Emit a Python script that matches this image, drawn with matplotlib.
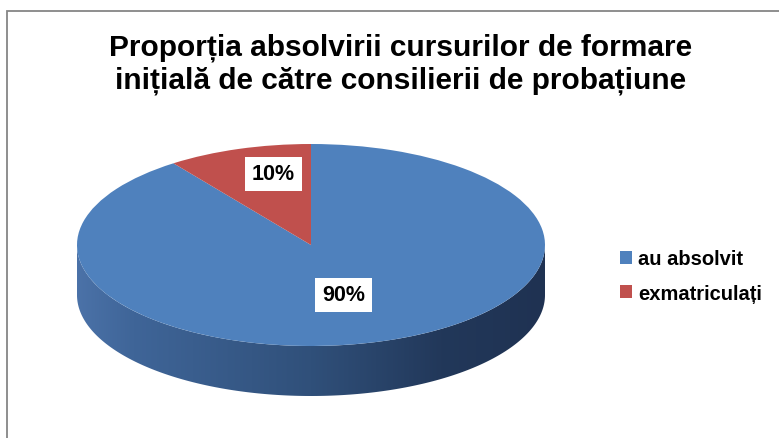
import numpy as np
import matplotlib
matplotlib.use("Agg")
import matplotlib.pyplot as plt
from matplotlib.colors import LinearSegmentedColormap
from matplotlib.patches import Polygon, Rectangle

plt.rcParams['font.family'] = ['Liberation Sans', 'DejaVu Sans']

title = "Proporția absolvirii cursurilor de formare\ninițială de către consilierii de probațiune"
labels = ["au absolvit", "exmatriculați"]
values = [90, 10]
colors = ["#4F81BD", "#C0504D"]

W, H = 779, 439
fig = plt.figure(figsize=(W / 100, H / 100), dpi=100)

# pie geometry in pixels (top face ellipse + side depth)
cx, cy, rx, ry, depth = 311, 246, 234, 101, 50
d = depth / ry
ax = fig.add_axes([(cx - rx) / W, 1 - (cy + ry + depth) / H, 2 * rx / W, (2 * ry + depth) / H])

wedges, texts, autotexts = ax.pie(values, colors=colors, startangle=90, counterclock=False,
                                  autopct='%1.0f%%', pctdistance=0.55,
                                  wedgeprops=dict(linewidth=0, zorder=3),
                                  textprops=dict(fontsize=15.5, fontweight='bold', color='black'))
ax.set_aspect('auto')
ax.axis('off')

# move percentage labels to where Excel puts them
label_r = [(0.45, 0.52), (0.52, 0.74)]
for w, t, (rxf, ryf) in zip(wedges, autotexts, label_r):
    th = np.deg2rad((w.theta1 + w.theta2) / 2)
    t.set_position((rxf * np.cos(th), ryf * np.sin(th)))
    t.set_zorder(5)
    t.set_bbox(dict(facecolor='white', edgecolor='none', pad=5))

# side of the 3D pie with a horizontal gradient
t = np.linspace(np.pi, 2 * np.pi, 200)
top = np.column_stack([np.cos(t), np.sin(t)])
bot = np.column_stack([np.cos(t[::-1]), np.sin(t[::-1]) - d])
side = Polygon(np.vstack([top, bot]), closed=True, facecolor='none', edgecolor='none')
ax.add_patch(side)
cmap = LinearSegmentedColormap.from_list('side', [
    (0.0, '#4B72A8'), (0.12, '#3F6598'), (0.5, '#30507A'),
    (0.78, '#22385A'), (1.0, '#1F3252')])
grad = np.linspace(0, 1, 256).reshape(1, -1)
im = ax.imshow(grad, cmap=cmap, extent=[-1, 1, -1 - d, 0], aspect='auto', zorder=1)
im.set_clip_path(side)
ax.set_xlim(-1, 1)
ax.set_ylim(-1 - d, 1)

fig.text(401 / W, 1 - 64 / H, title, ha='center', va='center',
         fontsize=21.5, fontweight='bold', linespacing=1.2)

fig.legend(wedges, labels, loc='center left', bbox_to_anchor=(602 / W, 1 - 277 / H),
           frameon=False, prop=dict(size=14.5, weight='bold'),
           handlelength=0.6, handleheight=0.6, handletextpad=0.3, labelspacing=0.75)

fig.add_artist(Rectangle((7 / W, -0.1), 1.2, 1 - 12 / H + 0.1, transform=fig.transFigure,
                         fill=False, edgecolor='#868686', linewidth=1.3))

fig.savefig("out.png", dpi=100)
